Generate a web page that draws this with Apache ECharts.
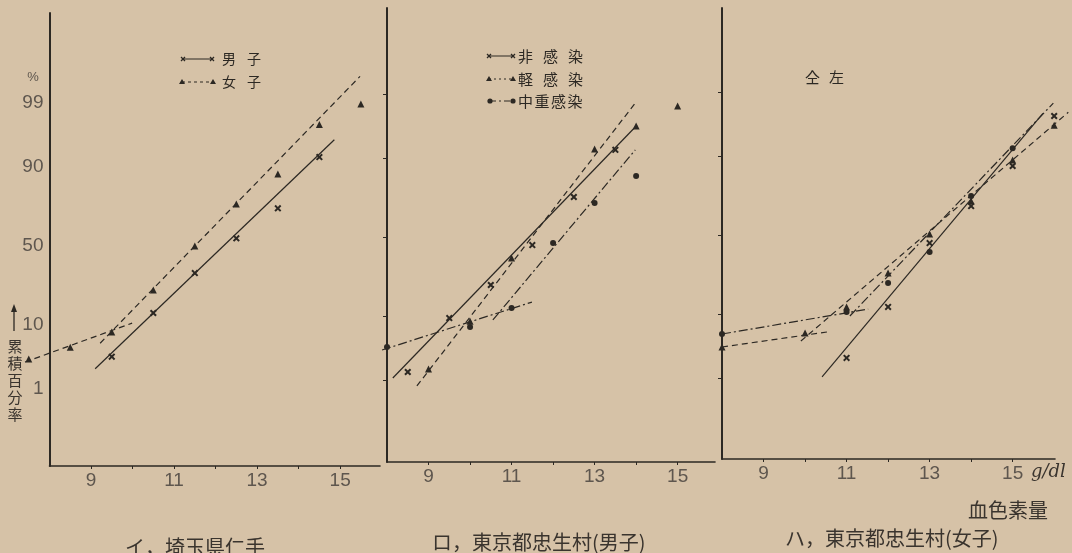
<!DOCTYPE html>
<html lang="ja">
<head>
<meta charset="UTF-8">
<title>血色素量 累積百分率</title>
<style>
  html,body{margin:0;padding:0;background:#d6c2a7;}
  #main{width:1072px;height:553px;}
</style>
</head>
<body>
<div id="main"></div>
<script src="https://cdn.jsdelivr.net/npm/echarts@6/dist/echarts.min.js"></script>
<script>
// x: 血色素量 (g/dl), y: 累積百分率 (%) on a probability scale
const pctTicks = [1, 10, 50, 90, 99];
const xLabels = [9, 11, 13, 15];
const xTicks = [9, 10, 11, 12, 13, 14, 15];

// イ 埼玉県仁手
const iMaleX = [9.5, 10.5, 11.5, 12.5, 13.5, 14.5];
const iMalePct = [3.6, 13.8, 33, 55, 73, 92.6];
const iFemaleX = [7.5, 8.5, 9.5, 10.5, 11.5, 12.5, 13.5, 14.5, 15.5];
const iFemalePct = [3.3, 5.0, 8.1, 23.7, 50, 75.3, 87.9, 97.6, 98.95];
// fitted lines: [start, end]
const iMaleFitX = [9.1, 14.86], iMaleFitPct = [2.3, 95.8];
const iFemaleFitAX = [7.41, 9.99], iFemaleFitAPct = [2.96, 10.5];
const iFemaleFitBX = [9.22, 15.48], iFemaleFitBPct = [5.7, 99.71];

// ロ 東京都忠生村(男子)
const roNoneX = [8.5, 9.5, 10.5, 11.5, 12.5, 13.5];
const roNonePct = [1.44, 9.5, 22, 45.1, 74.5, 92.3];
const roLightX = [9, 10, 11, 13, 14, 15];
const roLightPct = [1.63, 8.7, 37, 92.5, 96.5, 98.37];
const roHeavyX = [8, 10, 11, 12, 13, 14];
const roHeavyPct = [3.75, 7.3, 12.6, 46.4, 71.3, 84.1];
const roNoneFitX = [8.14, 14.02], roNoneFitPct = [1.12, 96.6];
const roLightFitX = [8.72, 13.98], roLightFitPct = [0.79, 98.56];
const roHeavyFitAX = [7.88, 11.49], roHeavyFitAPct = [3.37, 14.7];
const roHeavyFitBX = [10.55, 13.98], roHeavyFitBPct = [9.0, 92.3];

// ハ 東京都忠生村(女子)
const haNoneX = [11, 12, 13, 14, 15, 16];
const haNonePct = [2.28, 12.1, 44.8, 68.1, 86.9, 97.35];
const haLightX = [8, 10, 11, 12, 13, 14, 15, 16];
const haLightPct = [3.43, 5.56, 12.1, 26.8, 50.6, 71.0, 88.9, 96.3];
const haHeavyX = [8, 11, 12, 13, 14, 15];
const haHeavyPct = [5.37, 10.5, 21.8, 39.1, 73.7, 92.1];
const haNoneFitX = [10.41, 15.73], haNoneFitPct = [1.05, 97.6];
const haLightFitAX = [8, 10.53], haLightFitAPct = [3.43, 5.74];
const haLightFitBX = [9.9, 16.34], haLightFitBPct = [4.24, 97.7];
const haHeavyFitAX = [8, 11.52], haHeavyFitAPct = [5.37, 11.4];
const haHeavyFitBX = [11.08, 15.98], haHeavyFitBPct = [9.4, 98.4];

const ink = '#2c2823';
const numColor = '#5e564e';
const numFont = '"Liberation Sans Narrow", "Liberation Sans", sans-serif';
const cjk = '"Noto Sans CJK JP", sans-serif';

// inverse normal cdf (Acklam)
function probit(p){
    const a=[-3.969683028665376e+01,2.209460984245205e+02,-2.759285104469687e+02,1.383577518672690e+02,-3.066479806614716e+01,2.506628277459239e+00];
    const b=[-5.447609879822406e+01,1.615858368580409e+02,-1.556989798598866e+02,6.680131188771972e+01,-1.328068155288572e+01];
    const c=[-7.784894002430293e-03,-3.223964580411365e-01,-2.400758277161838e+00,-2.549732539343734e+00,4.374664141464968e+00,2.938163982698783e+00];
    const d=[7.784695709041462e-03,3.224671290700398e-01,2.445134137142996e+00,3.754408661907416e+00];
    const pl=0.02425;
    if(p<pl){
        const q=Math.sqrt(-2*Math.log(p));
        return (((((c[0]*q+c[1])*q+c[2])*q+c[3])*q+c[4])*q+c[5])/((((d[0]*q+d[1])*q+d[2])*q+d[3])*q+1);
    }
    if(p>1-pl){
        const q=Math.sqrt(-2*Math.log(1-p));
        return -(((((c[0]*q+c[1])*q+c[2])*q+c[3])*q+c[4])*q+c[5])/((((d[0]*q+d[1])*q+d[2])*q+d[3])*q+1);
    }
    const q=p-0.5, r=q*q;
    return (((((a[0]*r+a[1])*r+a[2])*r+a[3])*r+a[4])*r+a[5])*q/(((((b[0]*r+b[1])*r+b[2])*r+b[3])*r+b[4])*r+1);
}
const z = pct => probit(pct/100);
const pts = (xs, ps) => xs.map((x,i)=>[x, z(ps[i])]);
const tickZ = pctTicks.map(z);

const panels = [
    {left:49.5, top:13, width:330.5, height:453, xMax:15.96, zMin:-3.577, zMax:3.789},
    {left:387, top:8, width:328, height:454, xMax:15.90, zMin:-3.650, zMax:3.732},
    {left:722, top:8, width:333, height:451, xMax:16.02, zMin:-3.642, zMax:3.691}
];

const X_PATH = 'path://M2,0L5,3L8,0L10,2L7,5L10,8L8,10L5,7L2,10L0,8L3,5L0,2Z';
const DASH = [6,4];
const DASHDOT = [9,3,2,3];

function marks(i, xs, ps, symbol, size){
    return {type:'scatter', xAxisIndex:i, yAxisIndex:i, data:pts(xs,ps), symbol, symbolSize:size,
        itemStyle:{color:ink, opacity:1}, clip:false, silent:true, z:3};
}
// fitted straight lines, drawn as a 'lines' segment so they may run past the axes like the original
function fit(i, xs, ps, type){
    return {type:'lines', coordinateSystem:'cartesian2d', xAxisIndex:i, yAxisIndex:i, clip:false,
        data:[{coords:pts(xs,ps)}],
        lineStyle:{color:ink, width:1.2, type, opacity:1}, silent:true};
}

const series = [
    marks(0, iMaleX, iMalePct, X_PATH, 7),
    marks(0, iFemaleX, iFemalePct, 'triangle', 7),
    fit(0, iMaleFitX, iMaleFitPct, 'solid'),
    fit(0, iFemaleFitAX, iFemaleFitAPct, DASH),
    fit(0, iFemaleFitBX, iFemaleFitBPct, DASH),

    marks(1, roNoneX, roNonePct, X_PATH, 7),
    marks(1, roLightX, roLightPct, 'triangle', 7),
    marks(1, roHeavyX, roHeavyPct, 'circle', 6),
    fit(1, roNoneFitX, roNoneFitPct, 'solid'),
    fit(1, roLightFitX, roLightFitPct, DASH),
    fit(1, roHeavyFitAX, roHeavyFitAPct, DASHDOT),
    fit(1, roHeavyFitBX, roHeavyFitBPct, DASHDOT),

    marks(2, haNoneX, haNonePct, X_PATH, 7),
    marks(2, haLightX, haLightPct, 'triangle', 7),
    marks(2, haHeavyX, haHeavyPct, 'circle', 6),
    fit(2, haNoneFitX, haNoneFitPct, 'solid'),
    fit(2, haLightFitAX, haLightFitAPct, DASH),
    fit(2, haLightFitBX, haLightFitBPct, DASH),
    fit(2, haHeavyFitAX, haHeavyFitAPct, DASHDOT),
    fit(2, haHeavyFitBX, haHeavyFitBPct, DASHDOT)
];

// legend pieces and texts
function markerEl(kind, x, y){
    if(kind==='tri') return {type:'polygon', shape:{points:[[x,y-3],[x+3,y+2],[x-3,y+2]]}, style:{fill:ink}};
    if(kind==='dot') return {type:'circle', shape:{cx:x, cy:y, r:2.6}, style:{fill:ink}};
    return {type:'group', children:[
        {type:'line', shape:{x1:x-2, y1:y-2, x2:x+2, y2:y+2}, style:{stroke:ink, lineWidth:1.2}},
        {type:'line', shape:{x1:x-2, y1:y+2, x2:x+2, y2:y-2}, style:{stroke:ink, lineWidth:1.2}}
    ]};
}
function legendRow(x0, x1, y, kind, dash){
    return [
        {type:'line', shape:{x1:x0, y1:y, x2:x1, y2:y}, style:{stroke:ink, lineWidth:1, lineDash:dash}},
        markerEl(kind, x0, y), markerEl(kind, x1, y)
    ];
}
function chars(str, x0, step, y, size){
    return [...str].map((c,k)=>c===' ' ? null : {type:'text', style:{text:c, x:x0+k*step, y,
        font:size+'px '+cjk, fill:ink, verticalAlign:'middle'}}).filter(Boolean);
}
function txt(text, x, y, size, opts){
    return {type:'text', style:Object.assign({text, x, y, font:size+'px '+cjk, fill:ink, verticalAlign:'middle'}, opts||{})};
}

const graphic = [].concat(
    legendRow(183, 212, 59, 'x', null), chars('男 子', 222, 12.5, 59, 14),
    legendRow(182, 213, 82, 'tri', [3,3]), chars('女 子', 222, 12.5, 82, 14),

    legendRow(489, 513, 56, 'x', null), chars('非 感 染', 518, 12.5, 56, 15),
    legendRow(489, 513, 79, 'tri', [2,3]), chars('軽 感 染', 518, 12.5, 79, 15),
    legendRow(490, 513, 101, 'dot', [6,3,2,3]), chars('中重感染', 518, 16.5, 101, 15),

    chars('仝 左', 805, 12, 77, 15),

    [txt('%', 33, 77, 13, {align:'center', fill:numColor, font:'13px '+numFont})],
    [{type:'line', shape:{x1:14, y1:308, x2:14, y2:331}, style:{stroke:ink, lineWidth:1.3}},
     {type:'polygon', shape:{points:[[14,304],[17,312],[11,312]]}, style:{fill:ink}}],
    [...'累積百分率'].map((c,k)=>txt(c, 15, 346+k*17, 15, {align:'center', fill:'#3a342e'})),

    [txt('g/dl', 1031, 472, 18, {font:'italic 18px "DejaVu Serif", serif', fill:'#3a342e'})],
    [txt('血色素量', 968, 510, 20, {fill:'#3a342e'})],
    [txt('イ，埼玉県仁手', 125, 547, 20, {fill:'#3a342e'})],
    [txt('ロ，東京都忠生村(男子)', 432, 542, 20, {fill:'#3a342e'})],
    [txt('ハ，東京都忠生村(女子)', 785, 538, 20, {fill:'#3a342e'})]
);

const myChart = echarts.init(document.getElementById('main'), null, {renderer:'canvas'});
const option = {
    backgroundColor:'#d6c2a7',
    animation:false,
    grid: panels.map(p=>({left:p.left, top:p.top, width:p.width, height:p.height, outerBoundsMode:'none'})),
    xAxis: panels.map((p,i)=>({
        gridIndex:i, type:'value', min:8, max:p.xMax,
        axisLine:{onZero:false, lineStyle:{color:ink, width:1.6}},
        axisTick:{show:true, length:3, customValues:xTicks, lineStyle:{color:ink}},
        axisLabel:{customValues:xLabels, color:numColor, fontSize:19, fontFamily:numFont, margin:5},
        splitLine:{show:false}
    })),
    yAxis: panels.map((p,i)=>({
        gridIndex:i, type:'value', min:p.zMin, max:p.zMax,
        axisLine:{show:true, onZero:false, lineStyle:{color:ink, width:2}},
        axisTick:{show:i>0, length:4, customValues:tickZ, lineStyle:{color:ink}},
        axisLabel:{show:i===0, customValues:tickZ, color:numColor, fontSize:19, fontFamily:numFont, margin:6,
            formatter:v=>{
                const k = tickZ.findIndex(t=>Math.abs(t-v)<1e-6);
                return k<0 ? '' : String(pctTicks[k]);
            }},
        splitLine:{show:false}
    })),
    series,
    graphic
};
myChart.setOption(option);
</script>
</body>
</html>
